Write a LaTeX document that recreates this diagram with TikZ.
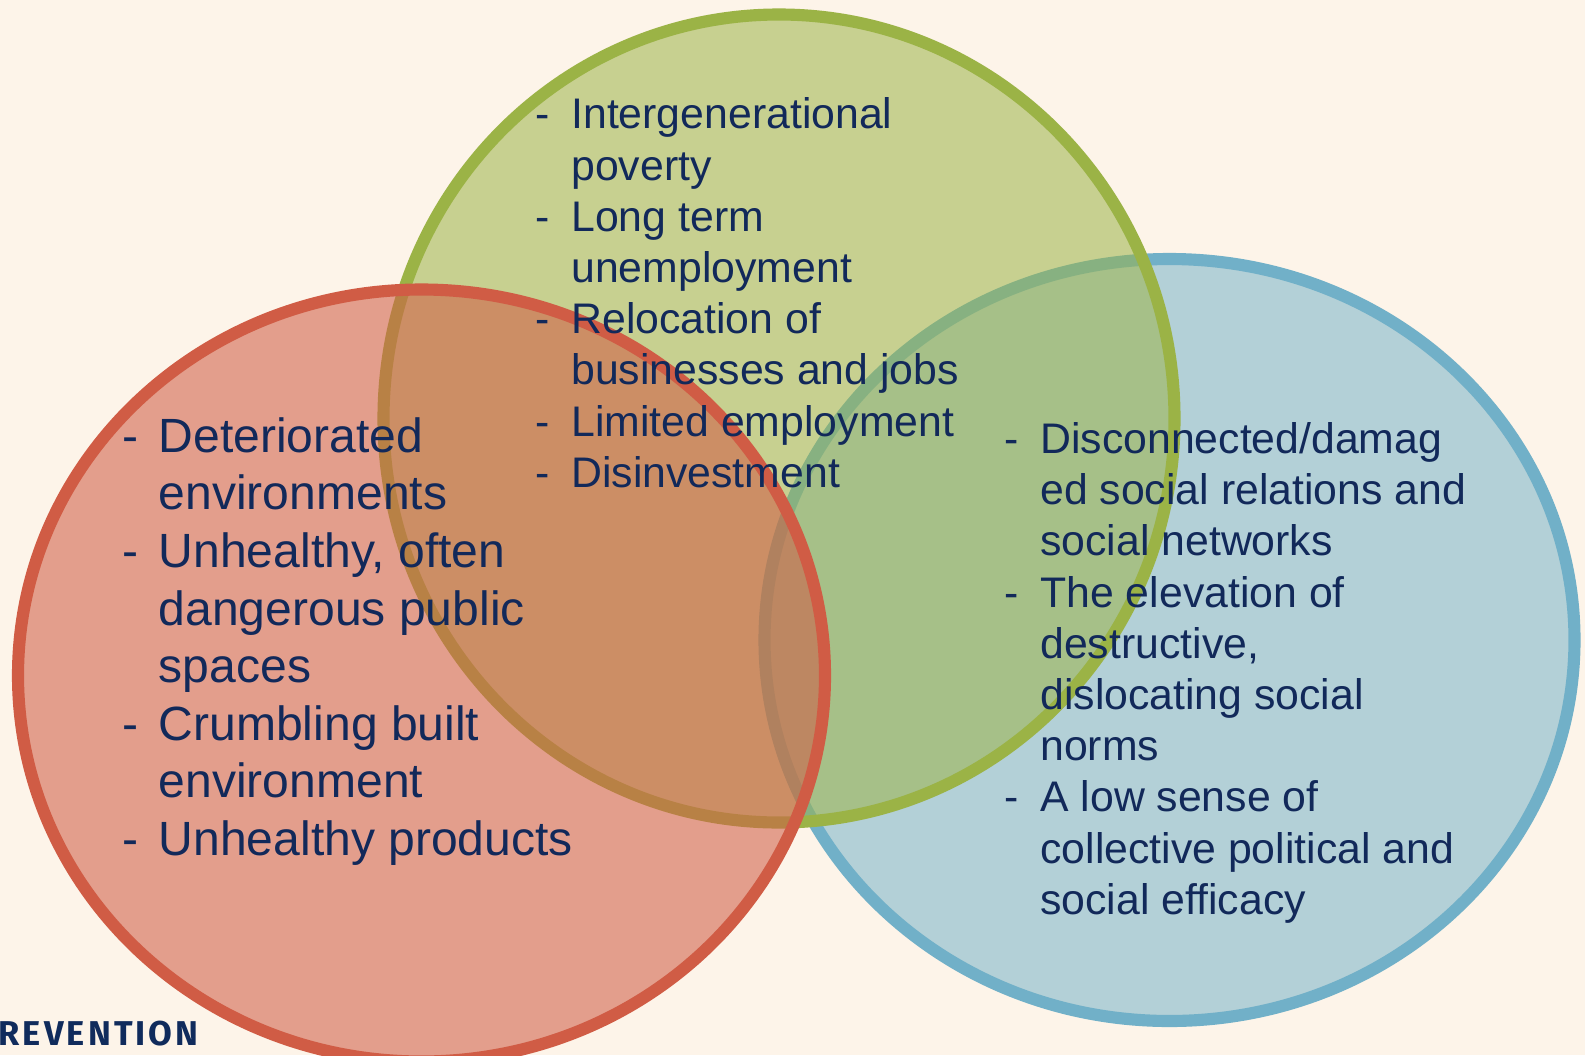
\documentclass[tikz,border=0pt]{standalone}
\usepackage{fontspec}
\setmainfont{Liberation Sans}
\newfontfamily\logofont[LetterSpace=9]{Fira Sans}
\definecolor{paper}{HTML}{FDF4E9}
\definecolor{redring}{HTML}{D05C45}
\definecolor{greenring}{HTML}{9BB346}
\definecolor{bluering}{HTML}{71B0C8}
\definecolor{inktext}{HTML}{12295A}
\definecolor{inklogo}{HTML}{102B5C}
\newcommand{\dashline}[1]{\makebox[36\pxunit][l]{-}#1}
\newcommand{\contline}[1]{\hspace*{36\pxunit}#1}
\newlength{\pxunit}
\setlength{\pxunit}{0.5690pt}
\tikzstyle{ring} = [line width=6.9pt, draw opacity=1]
\tikzstyle{biglist} = [anchor=north west, align=left, inner sep=0pt, text=inktext, font=\fontsize{27.35pt}{32.8pt}\selectfont]
\tikzstyle{smalllist} = [anchor=north west, align=left, inner sep=0pt, text=inktext, font=\fontsize{24.35pt}{29.15pt}\selectfont]

\begin{document}
\begin{tikzpicture}[x=0.02cm, y=-0.02cm]
\useasboundingbox (0,0) rectangle (1585,1055);
\clip (0,0) rectangle (1585,1055);
\fill[paper] (0,0) rectangle (1585,1055);
% Rings
\draw[ring, draw=bluering, fill=bluering, fill opacity=0.52] (1169.5,640) ellipse [x radius=405, y radius=381];
\draw[ring, draw=greenring, fill=greenring, fill opacity=0.54] (779,418.5) ellipse [x radius=395.5, y radius=404];
\draw[ring, draw=redring, fill=redring, fill opacity=0.565] (421.5,675.5) ellipse [x radius=403.5, y radius=386];
% Lists
\node[biglist] (Built) at (122.5,417) {\dashline{Deteriorated}\\ \contline{environments}\\ \dashline{Unhealthy, often}\\ \contline{dangerous public}\\ \contline{spaces}\\ \dashline{Crumbling built}\\ \contline{environment}\\ \dashline{Unhealthy products}};
\node[smalllist] (Economic) at (535,97.5) {\dashline{Intergenerational}\\ \contline{poverty}\\ \dashline{Long term}\\ \contline{unemployment}\\ \dashline{Relocation of}\\ \contline{businesses and jobs}\\ \dashline{Limited employment}\\ \dashline{Disinvestment}};
\node[smalllist] (Social) at (1004,422) {\dashline{Disconnected/damag}\\ \contline{ed social relations and}\\ \contline{social networks}\\ \dashline{The elevation of}\\ \contline{destructive,}\\ \contline{dislocating social}\\ \contline{norms}\\ \dashline{A low sense of}\\ \contline{collective political and}\\ \contline{social efficacy}};
\node[anchor=base east, inner sep=0pt, text=inklogo, font=\logofont\bfseries\fontsize{19.6pt}{24pt}\selectfont] (Logo) at (199,1045) {REVENTION};
\end{tikzpicture}
\end{document}
